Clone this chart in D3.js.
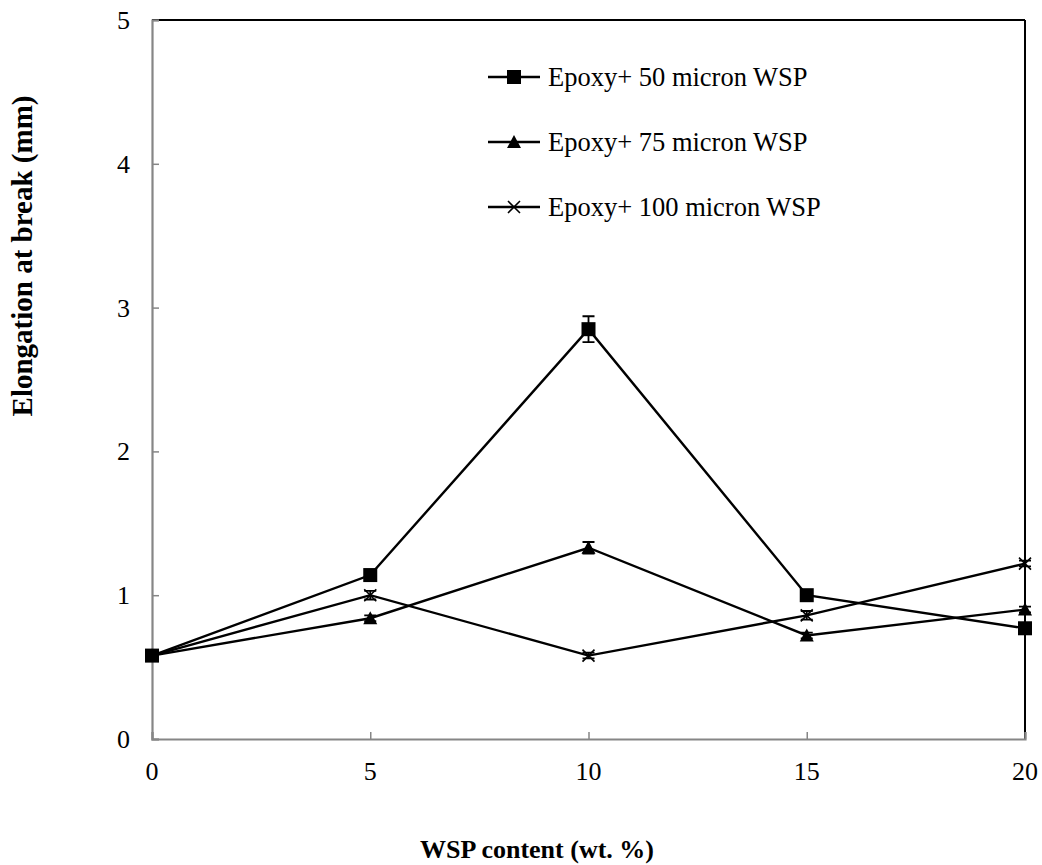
<!DOCTYPE html>
<html>
<head>
<meta charset="utf-8">
<script src="https://cdn.jsdelivr.net/npm/d3@7"></script>
<style>
  body { margin: 0; background: #fff; }
  svg { display: block; }
</style>
</head>
<body>
<svg id="chart" width="1042" height="865"></svg>
<script>
'use strict';

//data
const wspContent = [0, 5, 10, 15, 20];
const seriesNames = ['Epoxy+ 50 micron WSP', 'Epoxy+ 75 micron WSP', 'Epoxy+ 100 micron WSP'];
const micron50 = [0.58, 1.14, 2.85, 1.0, 0.77];
const micron75 = [0.58, 0.84, 1.33, 0.72, 0.90];
const micron100 = [0.58, 1.0, 0.58, 0.86, 1.22];
const err50 = [0.02, 0.03, 0.09, 0.02, 0.02];
const err75 = [0.02, 0.02, 0.04, 0.02, 0.02];
const err100 = [0.02, 0.03, 0.02, 0.03, 0.02];
const xTicks = [0, 5, 10, 15, 20];
const yTicks = [0, 1, 2, 3, 4, 5];

(() => {
  const font = 'Liberation Serif, Times New Roman, Times, DejaVu Serif, serif';
  const svg = d3.select('#chart')
    .attr('font-family', font);
  const x = d3.scaleLinear().domain([0, 20]).range([152, 1025]);
  const y = d3.scaleLinear().domain([0, 5]).range([739, 20]);

  //frame: top and right dark, axes gray
  svg.append('line')
    .attr('x1', x(0)).attr('x2', x(20)).attr('y1', y(5)).attr('y2', y(5))
    .attr('stroke', '#000').attr('stroke-width', 2);
  svg.append('line')
    .attr('x1', x(20)).attr('x2', x(20)).attr('y1', y(5)).attr('y2', y(0))
    .attr('stroke', '#000').attr('stroke-width', 2);

  //axes, ticks pointing inward
  const xAxis = svg.append('g')
    .attr('transform', `translate(0, ${y(0)})`)
    .call(d3.axisTop(x).tickValues(xTicks).tickSize(7).tickFormat(''));
  const yAxis = svg.append('g')
    .attr('transform', `translate(${x(0)}, 0)`)
    .call(d3.axisRight(y).tickValues(yTicks).tickSize(7).tickFormat(''));
  [xAxis, yAxis].forEach((g) => {
    g.select('.domain').attr('stroke', '#868686').attr('stroke-width', 2.2);
    g.selectAll('.tick line').attr('stroke', '#868686').attr('stroke-width', 1.5);
  });

  //tick labels
  svg.selectAll('.x-label')
    .data(xTicks)
    .enter().append('text')
    .attr('font-family', font)
    .attr('x', (d) => x(d))
    .attr('y', 780)
    .attr('text-anchor', 'middle')
    .attr('font-size', 26)
    .text((d) => d);
  svg.selectAll('.y-label')
    .data(yTicks)
    .enter().append('text')
    .attr('font-family', font)
    .attr('x', 130)
    .attr('y', (d) => y(d) + 9)
    .attr('text-anchor', 'end')
    .attr('font-size', 26)
    .text((d) => d);

  //axis titles
  svg.append('text')
    .attr('font-family', font)
    .attr('x', 537)
    .attr('y', 858)
    .attr('text-anchor', 'middle')
    .attr('font-size', 26)
    .attr('font-weight', 'bold')
    .text('WSP content (wt. %)');
  svg.append('text')
    .attr('font-family', font)
    .attr('transform', 'translate(32, 256) rotate(-90)')
    .attr('text-anchor', 'middle')
    .attr('font-size', 29)
    .attr('font-weight', 'bold')
    .text('Elongation at break (mm)');

  const series = [
    { name: seriesNames[0], values: micron50, errs: err50, marker: 'square' },
    { name: seriesNames[1], values: micron75, errs: err75, marker: 'triangle' },
    { name: seriesNames[2], values: micron100, errs: err100, marker: 'cross' }
  ];

  function drawMarker(g, type, cx, cy) {
    if (type === 'square') {
      g.append('rect')
        .attr('x', cx - 7).attr('y', cy - 7)
        .attr('width', 14).attr('height', 14)
        .attr('fill', '#000');
    } else if (type === 'triangle') {
      g.append('path')
        .attr('d', `M ${cx} ${cy - 7} L ${cx + 7} ${cy + 6} L ${cx - 7} ${cy + 6} Z`)
        .attr('fill', '#000');
    } else {
      g.append('path')
        .attr('d', `M ${cx - 6} ${cy - 6} L ${cx + 6} ${cy + 6} M ${cx - 6} ${cy + 6} L ${cx + 6} ${cy - 6}`)
        .attr('stroke', '#000').attr('stroke-width', 1.6).attr('fill', 'none');
    }
  }

  const line = d3.line()
    .x((d) => x(d[0]))
    .y((d) => y(d[1]));

  //draw in reverse so the squares end up on top
  series.slice().reverse().forEach((s) => {
    const g = svg.append('g');
    const pts = wspContent.map((c, i) => [c, s.values[i], s.errs[i]]);
    g.append('path')
      .datum(pts)
      .attr('d', line)
      .attr('fill', 'none')
      .attr('stroke', '#000')
      .attr('stroke-width', 2.4);
    //error bars
    pts.forEach((p) => {
      const top = y(p[1] + p[2]);
      const bot = y(p[1] - p[2]);
      g.append('path')
        .attr('d', `M ${x(p[0])} ${top} L ${x(p[0])} ${bot} M ${x(p[0]) - 6} ${top} L ${x(p[0]) + 6} ${top} M ${x(p[0]) - 6} ${bot} L ${x(p[0]) + 6} ${bot}`)
        .attr('stroke', '#000')
        .attr('stroke-width', 1.8)
        .attr('fill', 'none');
    });
    pts.forEach((p) => drawMarker(g, s.marker, x(p[0]), y(p[1])));
  });

  //legend
  const legendY = [77, 142, 207];
  series.forEach((s, i) => {
    const g = svg.append('g');
    g.append('line')
      .attr('x1', 488).attr('x2', 540)
      .attr('y1', legendY[i]).attr('y2', legendY[i])
      .attr('stroke', '#000').attr('stroke-width', 2.4);
    drawMarker(g, s.marker, 514, legendY[i]);
    g.append('text')
      .attr('font-family', font)
      .attr('x', 548)
      .attr('y', legendY[i] + 9)
      .attr('font-size', 26.5)
      .text(s.name);
  });
})();
</script>
</body>
</html>
